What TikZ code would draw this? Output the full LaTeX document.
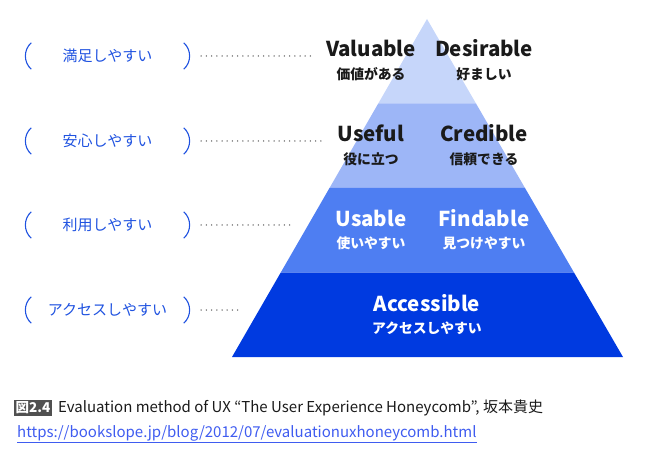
\documentclass[tikz,border=0pt]{standalone}
\usepackage{fontspec}
\setmainfont{Noto Sans CJK JP}
\usepackage{xcolor}
\usetikzlibrary{calc,positioning}
\definecolor{bandA}{HTML}{C6D6FA}
\definecolor{bandB}{HTML}{9DB6F7}
\definecolor{bandC}{HTML}{4E7EF2}
\definecolor{bandD}{HTML}{003AE0}
\definecolor{easeblue}{HTML}{1F52E0}
\definecolor{linkblue}{HTML}{3F5CF0}
\definecolor{figgray}{HTML}{505050}
\definecolor{ink}{HTML}{1A1A1A}

\begin{document}
\begin{tikzpicture}[
  x=1pt, y=-1pt,
  word/.style={font=\fontsize{20.5}{22}\selectfont\bfseries, text=ink, inner sep=0pt},
  sub/.style={font=\fontsize{13.8}{15}\selectfont\bfseries, text=ink, inner sep=0pt},
  ease/.style={text=easeblue, font=\fontsize{15}{17}\selectfont,
    minimum width=152pt, minimum height=26pt, inner sep=0pt},
  paren/.style={easeblue, line width=1.1pt},
  dots/.style={draw=black!65, line width=1.5pt, line cap=round,
    dash pattern=on 0pt off 5.2pt},
  caption/.style={font=\fontsize{15}{17}\selectfont, text=ink, inner sep=0pt, anchor=west}
]
  \useasboundingbox (0,0) rectangle (650,454);

  % pyramid bands (top to bottom)
  \coordinate (apex) at (427,19);
  \coordinate (bl) at (232,357);
  \coordinate (br) at (623,357);
  \foreach \c/\a/\b in {bandA/0/0.25, bandB/0.25/0.5, bandC/0.5/0.75, bandD/0.75/1}
    \fill[\c] ($(apex)!\a!(bl)$) -- ($(apex)!\a!(br)$)
      -- ($(apex)!\b!(br)$) -- ($(apex)!\b!(bl)$) -- cycle;

  % words in the bands
  \node[word] (valuable)  at (371,48)  {Valuable};
  \node[sub]  (valuableJ) at (371,74)  {価値がある};
  \node[word] (desirable) at (484,48)  {Desirable};
  \node[sub]  (desirableJ) at (484,74) {好ましい};
  \node[word] (useful)    at (371,133) {Useful};
  \node[sub]  (usefulJ)   at (371,159) {役に立つ};
  \node[word] (credible)  at (484,133) {Credible};
  \node[sub]  (credibleJ) at (484,159) {信頼できる};
  \node[word, text=white] (usable)   at (371,218) {Usable};
  \node[sub, text=white]  (usableJ)  at (371,243) {使いやすい};
  \node[word, text=white] (findable) at (484,218) {Findable};
  \node[sub, text=white]  (findableJ) at (484,243) {見つけやすい};
  \node[word, text=white] (access)   at (427,303) {Accessible};
  \node[sub, text=white]  (accessJ)  at (427,328) {アクセスしやすい};

  % labels in brackets, dotted leaders to the bands
  \foreach \n/\y/\t/\e in {1/56/満足しやすい/313, 2/141/安心しやすい/325,
      3/225/利用しやすい/291, 4/310/アクセスしやすい/242} {
    \node[ease] (ease\n) at (107.5,\y) {\t};
    \coordinate (lead\n) at (\e,\y);
    \draw[paren] (ease\n.north west) to[bend right=50] (ease\n.south west);
    \draw[paren] (ease\n.north east) to[bend left=50] (ease\n.south east);
    \draw[dots] ([xshift=17.5pt]ease\n.east) -- (lead\n);
  }

  % caption
  \node[fill=figgray, text=white, font=\fontsize{13.5}{14}\selectfont\bfseries,
    inner sep=1.5pt] (fig) at (33,408) {図2.4};
  \node[caption, right=6pt of fig] (title)
    {Evaluation method of UX “The User Experience Honeycomb”, 坂本貴史};
  \node[caption, text=linkblue] (url) at (17,434)
    {\underline{https://bookslope.jp/blog/2012/07/evaluationuxhoneycomb.html}};
\end{tikzpicture}
\end{document}
